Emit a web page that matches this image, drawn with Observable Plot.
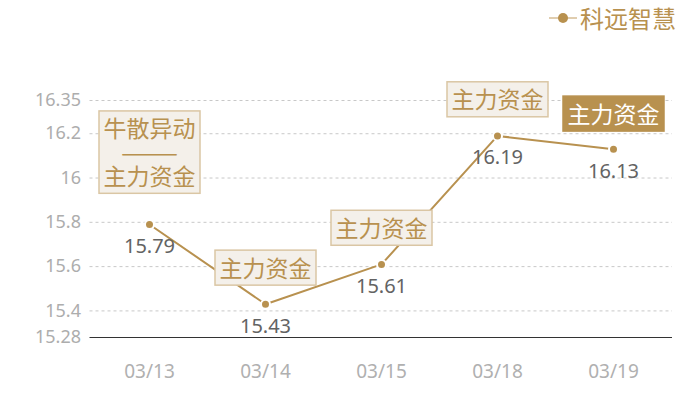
<!DOCTYPE html>
<html><head><meta charset="utf-8">
<script src="https://cdn.jsdelivr.net/npm/d3@7"></script>
<script src="https://cdn.jsdelivr.net/npm/@observablehq/plot@0.6"></script>
<style>
body{margin:0;background:#fff;}
#wrap{position:relative;width:700px;height:400px;}
#legend{position:absolute;top:3px;right:24px;display:flex;align-items:center;font-family:"Noto Sans CJK SC";font-size:24px;line-height:30px;color:#b8914f;}
</style></head><body><div id="wrap"><div id="legend"><svg width="28" height="12"><line x1="0" y1="6" x2="28" y2="6" stroke="#d6bd94" stroke-width="1.5"/><circle cx="14" cy="6" r="5" fill="#b8914f"/></svg><span id="legtext" style="margin-left:3px"></span></div></div>
<script>
const dates = ["03/13","03/14","03/15","03/18","03/19"];
const prices = [15.79,15.43,15.61,16.19,16.13];
const notes = ["牛散异动\n———\n主力资金","主力资金","主力资金","主力资金","主力资金"];
const highlighted = ["03/19"];
const yTicks = [15.28,15.4,15.6,15.8,16,16.2,16.35];
const seriesName = "科远智慧";

document.getElementById("legtext").textContent = seriesName;

const data = dates.map((d,i)=>({date:d, price:prices[i], note:notes[i]}));
const gold = "#b8914f";
const multi = data.filter(d=>d.note.includes("\n"));
const single = data.filter(d=>!d.note.includes("\n") && !highlighted.includes(d.date));
const hl = data.filter(d=>highlighted.includes(d.date));

const chart = Plot.plot({
  width:700, height:400,
  marginLeft:89.5, marginRight:28, marginTop:100, marginBottom:63,
  style:{fontFamily:"Noto Sans, Noto Sans CJK SC", background:"#fff"},
  x:{type:"point", domain:dates, padding:0.5, label:null},
  y:{domain:[yTicks[0], yTicks[yTicks.length-1]], label:null},
  marks:[
    Plot.gridY(yTicks.slice(1), {stroke:"#c8c8c8", strokeOpacity:1, strokeDasharray:"3,3"}),
    Plot.axisY(yTicks, {tickSize:0, tickPadding:9, fontSize:18, color:"#adadad", tickFormat:d=>String(d), label:null}),
    Plot.axisX({tickSize:0, tickPadding:27, fontSize:19, color:"#b0b0b0", label:null}),
    Plot.ruleY([yTicks[0]], {stroke:"#333", strokeWidth:1.2}),
    Plot.line(data, {x:"date", y:"price", stroke:gold, strokeWidth:2}),
    Plot.dot(data, {x:"date", y:"price", r:4.5, fill:gold, stroke:"white", strokeWidth:2}),
    Plot.text(data, {x:"date", y:"price", text:d=>d3.format(".2f")(d.price), dy:22, fill:"#636363", fontSize:20}),
    Plot.text(multi, {x:"date", y:"price", text:"note", dy:-71, fill:gold, fontSize:23, lineHeight:1.03, fontFamily:"Noto Sans CJK SC"}),
    Plot.text(single, {x:"date", y:"price", text:"note", dy:-35, fill:gold, fontSize:23, fontFamily:"Noto Sans CJK SC"}),
    Plot.text(hl, {x:"date", y:"price", text:"note", dy:-34, fill:"white", fontSize:23, fontFamily:"Noto Sans CJK SC"})
  ]
});
document.getElementById("wrap").prepend(chart);

chart.querySelectorAll('g[font-size="23"]').forEach(g=>{
  const isHl = g.getAttribute("fill") === "white";
  const fill = isHl ? gold : "#f4f0ea";
  const stroke = isHl ? gold : "#dac6a4";
  g.querySelectorAll("text").forEach(t=>{
    const b = t.getBBox();
    const r = document.createElementNS("http://www.w3.org/2000/svg","rect");
    r.setAttribute("x", b.x-4.5);
    r.setAttribute("y", b.y+0.5);
    r.setAttribute("width", b.width+9);
    r.setAttribute("height", b.height+1);
    r.setAttribute("fill", fill);
    r.setAttribute("stroke", stroke);
    r.setAttribute("stroke-width", 1.5);
    const tr = t.getAttribute("transform");
    if (tr) r.setAttribute("transform", tr);
    t.parentNode.insertBefore(r, t);
  });
});
</script>
</body></html>
